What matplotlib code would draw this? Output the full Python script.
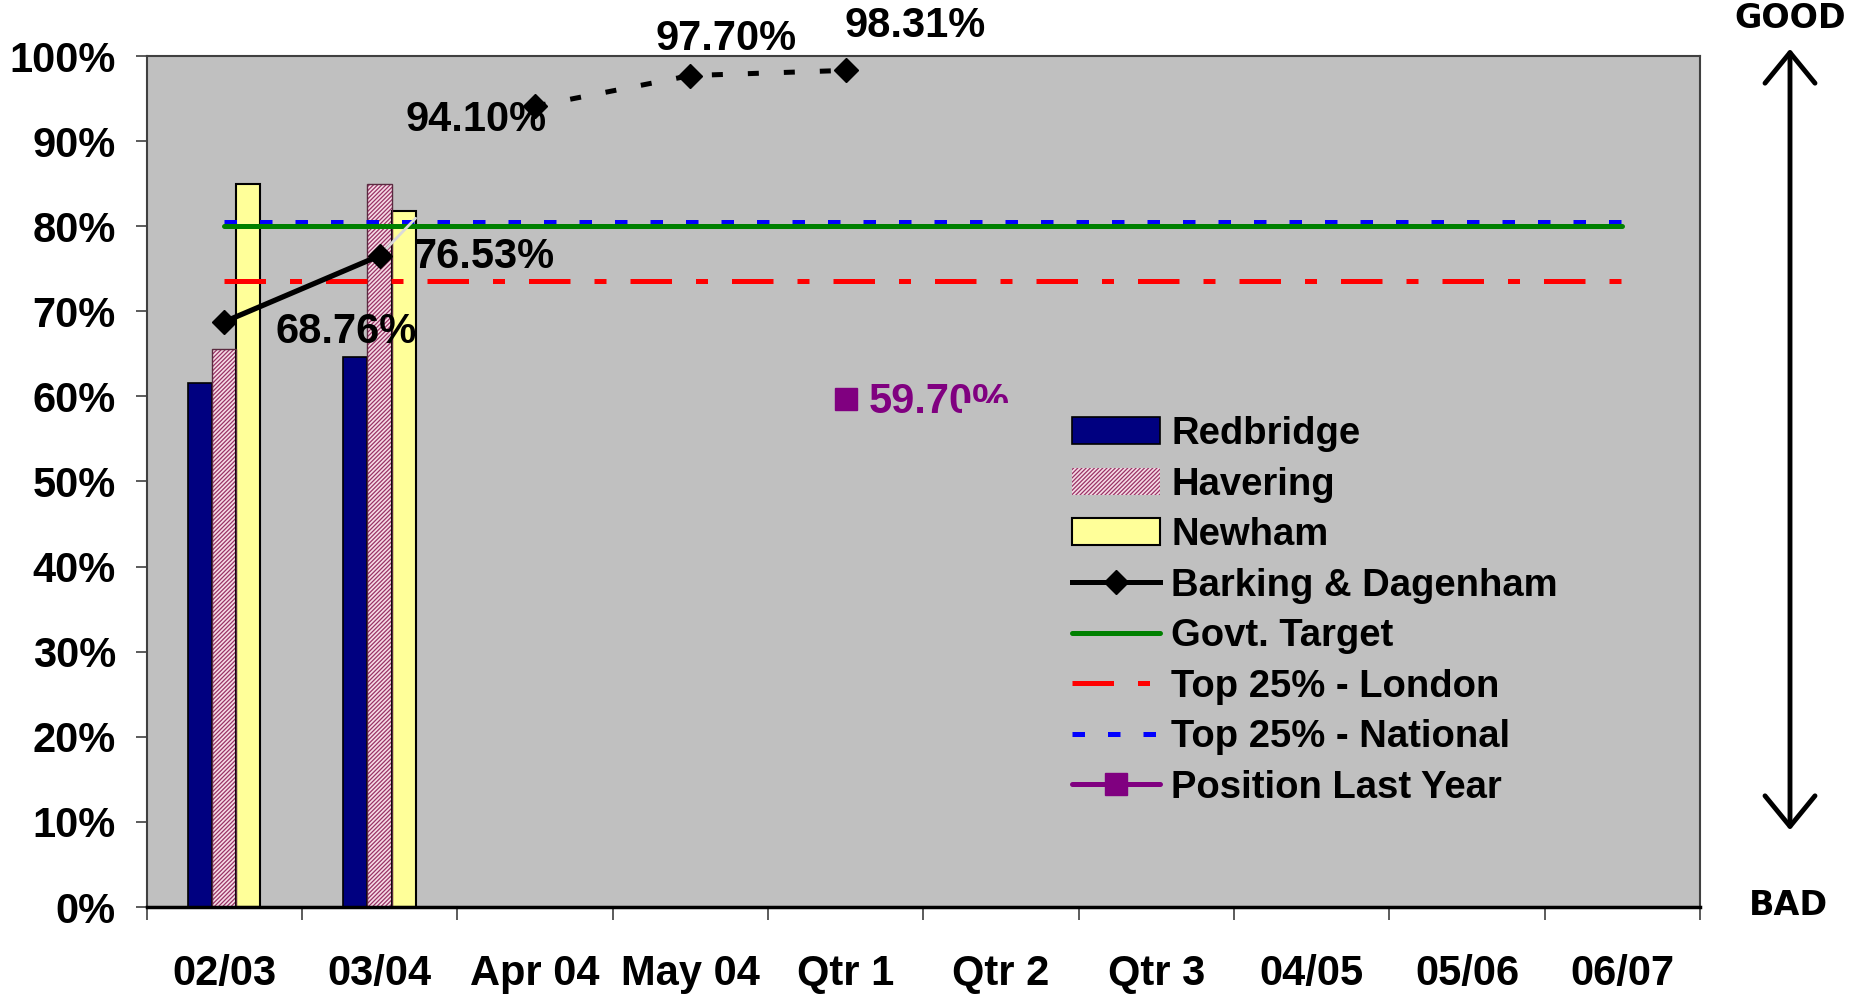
import matplotlib
matplotlib.use("Agg")
import matplotlib.pyplot as plt
import numpy as np
from matplotlib.patches import Rectangle, FancyArrowPatch
from matplotlib.lines import Line2D

# categories on the x axis
periods = ["02/03", "03/04", "Apr 04", "May 04", "Qtr 1",
           "Qtr 2", "Qtr 3", "04/05", "05/06", "06/07"]

# comparator boroughs (annual outturn, %)
redbridge = [61.6, 64.6]
havering = [65.6, 85.0]
newham = [85.0, 81.8]

# Barking & Dagenham: two annual values then monthly / quarterly values
barking = [68.76, 76.53, 94.10, 97.70, 98.31]
barking_labels = ["68.76%", "76.53%", "94.10%", "97.70%", "98.31%"]

# reference lines
govt_target = 80.0
top25_london = 73.6
top25_national = 80.5

# last year's position
last_year = 59.70
last_year_period = "Qtr 1"

GREY = "#C0C0C0"
FONT = "Liberation Sans"

plt.rcParams["font.family"] = [FONT, "DejaVu Sans"]
plt.rcParams["font.weight"] = "bold"
plt.rcParams["hatch.color"] = "#993366"
plt.rcParams["hatch.linewidth"] = 0.9

fig = plt.figure(figsize=(18.67, 9.96), dpi=100)
ax = fig.add_axes([146.5 / 1867, 1 - 907 / 996, (1700 - 146.5) / 1867, (907 - 56) / 996])
ax.set_facecolor(GREY)

x = np.arange(len(periods))
bw = 0.155

# bars
xb = np.arange(len(redbridge))
b_red = ax.bar(xb - bw, redbridge, bw, color="#000080", edgecolor="black", linewidth=1.2, zorder=1)
b_hav = ax.bar(xb, havering, bw, color="#F6DCE6", hatch="////////", linewidth=0, zorder=1)
ax.bar(xb, havering, bw, facecolor="none", edgecolor="#5a2a40", linewidth=1.0, zorder=1.1)
b_new = ax.bar(xb + bw, newham, bw, color="#FFFF99", edgecolor="black", linewidth=1.5, zorder=1)

# reference lines across every period
n = len(periods)
l_nat, = ax.plot(x, [top25_national] * n, color="#0000FF", lw=3.6,
                 linestyle=(0, (2.5, 4.6)), dash_capstyle="butt", zorder=2)
l_gov, = ax.plot(x, [govt_target] * n, color="#008000", lw=3.6, solid_capstyle="round", zorder=2.1)
l_lon, = ax.plot(x, [top25_london] * n, color="#FF0000", lw=3.6,
                 linestyle=(0, (8.3, 4.8, 2.4, 4.8)), dash_capstyle="butt", zorder=2)

# Barking & Dagenham: solid for annual values, dashed for the in-year values
xk = np.arange(len(barking))
ax.plot(xk[:2], barking[:2], color="black", lw=3.8, zorder=3)
ax.plot(xk[2:], barking[2:], color="black", lw=3.6, linestyle=(0, (2.2, 5.0)),
        dash_capstyle="butt", zorder=3)
ax.plot(xk, barking, linestyle="none", marker="D", markersize=12.5, color="black", zorder=3.2)

# faint leader line from the 03/04 point
ax.annotate("", (xk[1], barking[1]), xytext=(26, 27), textcoords="offset points",
            arrowprops=dict(arrowstyle="-", color="#DADADA", lw=2, shrinkA=0, shrinkB=4), zorder=2.9)

offsets = [(37, -7, "left"), (24, -1, "left"), (-42, -10, "center"), (26, 26, "center"), (50, 32, "center")]
for xi, yi, lab, (dx, dy, ha) in zip(xk, barking, barking_labels, offsets):
    ax.annotate(lab, (xi, yi), xytext=(dx, dy), textcoords="offset points",
                ha=ha, va="center", fontsize=30, fontweight="bold", color="black",
                annotation_clip=False, zorder=3.5)

# last year marker
xl = periods.index(last_year_period)
ax.plot([xl], [last_year], linestyle="none", marker="s", markersize=16.5, color="#800080", zorder=3)
ax.annotate(f"{last_year:.2f}%", (xl, last_year), xytext=(17, -2), textcoords="offset points",
            ha="left", va="center", fontsize=30, fontweight="bold", color="#800080", zorder=2.5)

# grey panel behind the legend (hides the lower part of the label as in the original)
ax.add_patch(Rectangle((0.525, 0.03), 0.40, 0.592 - 0.03, transform=ax.transAxes,
                       facecolor=GREY, edgecolor="none", zorder=2.8))

# axes
ax.set_xlim(-0.5, n - 0.5)
ax.set_ylim(0, 100)
ax.set_xticks(x)
ax.set_xticklabels(periods)
ax.set_xticks(np.arange(n + 1) - 0.5, minor=True)
ax.tick_params(axis="x", which="major", length=0, pad=34, labelsize=30)
ax.tick_params(axis="x", which="minor", length=9, width=1.2, color="#404040")
ax.set_yticks(np.arange(0, 101, 10))
ax.set_yticklabels([f"{v}%" for v in range(0, 101, 10)])
ax.tick_params(axis="y", length=8, width=1.2, pad=14, labelsize=30, color="#404040")
for lab in ax.get_xticklabels() + ax.get_yticklabels():
    lab.set_fontweight("bold")
for s in ["left", "top", "right"]:
    ax.spines[s].set_color("#404040")
    ax.spines[s].set_linewidth(1.5)
ax.spines["bottom"].set_color("black")
ax.spines["bottom"].set_linewidth(2.5)

# legend
h_bark = Line2D([], [], color="black", lw=3.6, marker="D", markersize=12.5)
h_last = Line2D([], [], color="#800080", lw=3.6, marker="s", markersize=16.5, solid_capstyle="round")
handles = [b_red, b_hav, b_new, h_bark, l_gov, l_lon, l_nat, h_last]
labels = ["Redbridge", "Havering", "Newham", "Barking & Dagenham", "Govt. Target",
          "Top 25% - London", "Top 25% - National", "Position Last Year"]
leg = ax.legend(handles, labels, loc="upper left", bbox_to_anchor=(1072 / 1867, 1 - 416 / 996),
                bbox_transform=fig.transFigure, frameon=False,
                handlelength=2.3, handletextpad=0.3, labelspacing=0.38, borderpad=0,
                borderaxespad=0, prop={"weight": "bold", "size": 27.5})
leg.set_zorder(5)

# GOOD / BAD arrow on the right
fig.text(1790 / 1867, 1 - 19 / 996, "GOOD", ha="center", va="center", fontsize=24,
         fontweight="bold", family="DejaVu Sans")
fig.text(1788 / 1867, 1 - 905 / 996, "BAD", ha="center", va="center", fontsize=24,
         fontweight="bold", family="DejaVu Sans")
fig.add_artist(FancyArrowPatch(
    (1790 / 1867, 1 - 833 / 996), (1790 / 1867, 1 - 46 / 996), transform=fig.transFigure,
    arrowstyle="<->,head_length=1.1,head_width=0.9", lw=3.5, color="black", mutation_scale=20))

fig.savefig("out.png", dpi=100, facecolor="white")
